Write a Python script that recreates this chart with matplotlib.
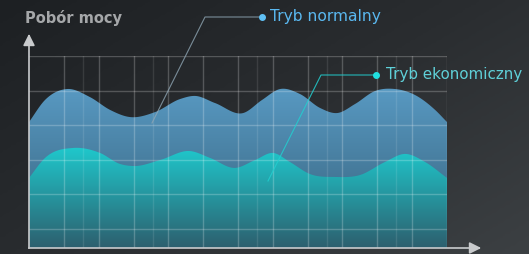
import numpy as np
import matplotlib
matplotlib.use("Agg")
import matplotlib.pyplot as plt
from matplotlib.colors import LinearSegmentedColormap
from matplotlib.path import Path
from matplotlib.patches import PathPatch

# ---- data (x in grid units 0..12, y in units 0..100 where 100 = top grid line)
normal_x = [0.0, 0.46, 1.09, 1.75, 2.33, 2.9, 3.62, 4.34, 4.77, 5.34, 6.15, 6.69, 7.21, 7.78, 8.36, 8.85, 9.36, 9.94, 10.51, 11.08, 11.66, 12.0]
normal_y = [65.6, 77.1, 82.8, 78.6, 71.9, 68.2, 70.8, 77.6, 79.2, 75.5, 70.3, 77.1, 82.8, 80.2, 72.9, 70.3, 75.0, 81.8, 82.8, 79.7, 71.9, 65.6]
eco_x = [0.0, 0.46, 1.26, 2.04, 2.61, 3.04, 3.76, 4.62, 5.2, 5.91, 6.49, 7.01, 7.49, 8.07, 8.79, 9.5, 10.22, 10.8, 11.37, 12.0]
eco_y = [36.5, 46.9, 52.1, 49.5, 43.8, 42.7, 45.8, 50.5, 46.9, 41.7, 45.8, 49.5, 44.8, 38.5, 37.0, 38.0, 44.8, 49.0, 44.8, 36.5]
label_normal = "Tryb normalny"
label_eco = "Tryb ekonomiczny"
y_title = "Pobór mocy"

W, H = 529, 254
fig = plt.figure(figsize=(W / 100, H / 100), dpi=100)

# background gradient
bg = fig.add_axes([0, 0, 1, 1])
bg.set_axis_off()
gx, gy = np.meshgrid(np.linspace(0, 1, 200), np.linspace(0, 1, 100))
g = 0.55 * gx + 0.45 * gy
bg_cmap = LinearSegmentedColormap.from_list("bg", ["#1d2023", "#2a2d30", "#3c4043"])
bg.imshow(g, cmap=bg_cmap, extent=[0, 1, 0, 1], aspect="auto", origin="upper")
bg.set_xlim(0, 1); bg.set_ylim(0, 1)

# plot axes placed on plot region
L, R, T, B = 29, 447, 56, 248
ax = fig.add_axes([L / W, 1 - B / H, (R - L) / W, (B - T) / H])
ax.set_xlim(0, 12)
ax.set_ylim(0, 100)
ax.set_axis_off()
ax.patch.set_alpha(0)

def smooth(xs, ys, n=600):
    xs = np.asarray(xs); ys = np.asarray(ys)
    t = np.linspace(xs[0], xs[-1], n)
    m = np.gradient(ys, xs)
    idx = np.clip(np.searchsorted(xs, t) - 1, 0, len(xs) - 2)
    x0 = xs[idx]; x1 = xs[idx + 1]; h = x1 - x0
    s = (t - x0) / h
    h00 = 2 * s**3 - 3 * s**2 + 1
    h10 = s**3 - 2 * s**2 + s
    h01 = -2 * s**3 + 3 * s**2
    h11 = s**3 - s**2
    out = h00 * ys[idx] + h10 * h * m[idx] + h01 * ys[idx + 1] + h11 * h * m[idx + 1]
    return t, out

def grad_fill(xs, ys, top_color, bottom_color, z):
    t, yv = smooth(xs, ys)
    verts = [(t[0], 0)] + list(zip(t, yv)) + [(t[-1], 0), (t[0], 0)]
    codes = [Path.MOVETO] + [Path.LINETO] * (len(verts) - 2) + [Path.CLOSEPOLY]
    patch = PathPatch(Path(verts, codes), facecolor="none", edgecolor="none")
    ax.add_patch(patch)
    cm = LinearSegmentedColormap.from_list("f", [bottom_color, top_color])
    grad = np.linspace(0, 1, 256).reshape(-1, 1)
    im = ax.imshow(grad, cmap=cm, extent=[0, 12, 0, max(yv)], origin="lower",
                   aspect="auto", zorder=z)
    im.set_clip_path(patch)

grad_fill(normal_x, normal_y, "#5899c2", "#355f78", 1)
grad_fill(eco_x, eco_y, "#1fc8cc", "#2d5f6e", 2)

# grid
step_y = 34.6 / 192 * 100
hy = [100 - i * step_y for i in range(6)]
for y in hy:
    ax.axhline(y, color="white", alpha=0.22, lw=1.0, zorder=3)
for x in range(1, 13):
    ax.axvline(x, color="white", alpha=0.22, lw=1.0, zorder=3)
for x in [1.55, 3.55, 6.55, 8.55, 10.55]:
    ax.axvline(x, color="white", alpha=0.10, lw=1.0, zorder=3)

# axes with arrows (figure pixel coords)
def px(x, y):
    return x / W, 1 - y / H
ac = "#c9cbcd"
bg2 = fig.add_axes([0, 0, 1, 1]); bg2.set_axis_off(); bg2.patch.set_alpha(0)
bg2.set_xlim(0, 1); bg2.set_ylim(0, 1)
bg2.plot(*zip(px(29, 248), px(29, 36)), color=ac, lw=1.2)
bg2.plot(*zip(px(29, 248), px(479, 248)), color=ac, lw=1.2)
bg2.annotate("", xy=px(29, 31), xytext=px(29, 45),
             arrowprops=dict(arrowstyle="-|>,head_length=0.7,head_width=0.35", color=ac, lw=1.2))
bg2.annotate("", xy=px(484, 248), xytext=px(470, 248),
             arrowprops=dict(arrowstyle="-|>,head_length=0.7,head_width=0.35", color=ac, lw=1.2))

# leader lines and labels
ln_c = "#8fa6b4"
bg2.plot(*zip(px(152, 123), px(205, 17), px(262, 17)), color=ln_c, lw=0.8, alpha=0.8)
bg2.plot(*px(262, 17), "o", color="#5fc0f5", ms=4)
bg2.text(*px(270, 17), label_normal, color="#5ab8f0", fontsize=11.2,
         family="DejaVu Sans", va="center", ha="left")
ec = "#22cfd0"
bg2.plot(*zip(px(268, 181), px(321, 75), px(376, 75)), color=ec, lw=0.8, alpha=0.85)
bg2.plot(*px(376, 75), "o", color="#20e0e0", ms=4)
bg2.text(*px(386, 75), label_eco, color="#5fd0d8", fontsize=10.9,
         family="DejaVu Sans", va="center", ha="left")
bg2.text(*px(25, 18), y_title, color="#a5a7a9", fontsize=10.5, fontweight="bold",
         family="DejaVu Sans", va="center", ha="left")

fig.savefig("out.png", dpi=100)
